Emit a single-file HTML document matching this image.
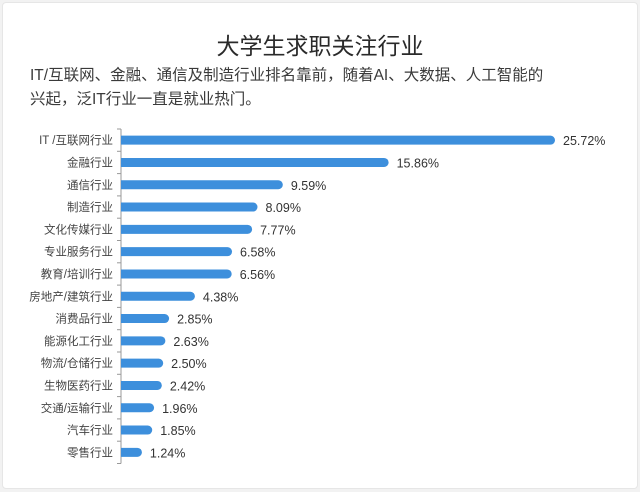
<!DOCTYPE html>
<html><head><meta charset="utf-8"><style>
body{margin:0;background:#f2f2f2;width:640px;height:492px;overflow:hidden}
#card{position:absolute;left:2px;top:2px;width:634px;height:485px;background:#fff;border:1px solid #e6e6e6;border-radius:4px}
.t{position:absolute;font-family:"Liberation Sans","Noto Sans CJK SC",sans-serif;color:#333}
</style></head><body>
<div id="card"></div>
<div class="t" style="left:0;width:640px;text-align:center;top:27px;font-size:23px;color:#2a2a2a">大学生求职关注行业</div>
<div class="t" style="left:30px;top:64px;width:600px;font-size:15.5px;line-height:24px;color:#3a3a3a">IT/互联网、金融、通信及制造行业排名靠前，随着AI、大数据、人工智能的<br>兴起，泛IT行业一直是就业热门。</div>
<svg id="chart" width="640" height="492" style="position:absolute;left:0;top:0"></svg>
<script>
const categories=["IT /互联网行业","金融行业","通信行业","制造行业","文化传媒行业","专业服务行业","教育/培训行业","房地产/建筑行业","消费品行业","能源化工行业","物流/仓储行业","生物医药行业","交通/运输行业","汽车行业","零售行业"];
const values=[25.72,15.86,9.59,8.09,7.77,6.58,6.56,4.38,2.85,2.63,2.50,2.42,1.96,1.85,1.24];
const valueLabels=["25.72%","15.86%","9.59%","8.09%","7.77%","6.58%","6.56%","4.38%","2.85%","2.63%","2.50%","2.42%","1.96%","1.85%","1.24%"];
const svg=document.getElementById('chart');const NS='http://www.w3.org/2000/svg';
const x0=121,xMax=25.72,x1=555,yTop=129,step=22.3;
const xs=v=>x0+(v/xMax)*(x1-x0);
const yc=i=>yTop+step*(i+0.5);
function mk(t,a){const e=document.createElementNS(NS,t);for(const k in a)e.setAttribute(k,a[k]);svg.appendChild(e);return e;}
const ax=mk('line',{x1:x0,y1:yTop,x2:x0,y2:yTop+step*categories.length,stroke:'#999','stroke-width':1});


for(let i=0;i<=categories.length;i++){const tk=mk('line',{x1:x0-4,y1:yTop+step*i,x2:x0,y2:yTop+step*i,stroke:'#999'});

}
categories.forEach((c,i)=>{
const y=yc(i),w=xs(values[i])-x0,h=9;
const b=mk('path',{d:`M${x0},${y-h/2}H${x0+w-h/2}A${h/2},${h/2} 0 0 1 ${x0+w-h/2},${y+h/2}H${x0}Z`,fill:'#3d8fdc'});


const l=mk('text',{x:x0-8,y:y+4,'text-anchor':'end','font-size':11.5,fill:'#444','font-family':'Liberation Sans,Noto Sans CJK SC,sans-serif'});l.textContent=c;


const v=mk('text',{x:xs(values[i])+8,y:y+5,'font-size':12.5,fill:'#333','font-family':'Liberation Sans,sans-serif'});v.textContent=valueLabels[i];


});
</script>
</body></html>
